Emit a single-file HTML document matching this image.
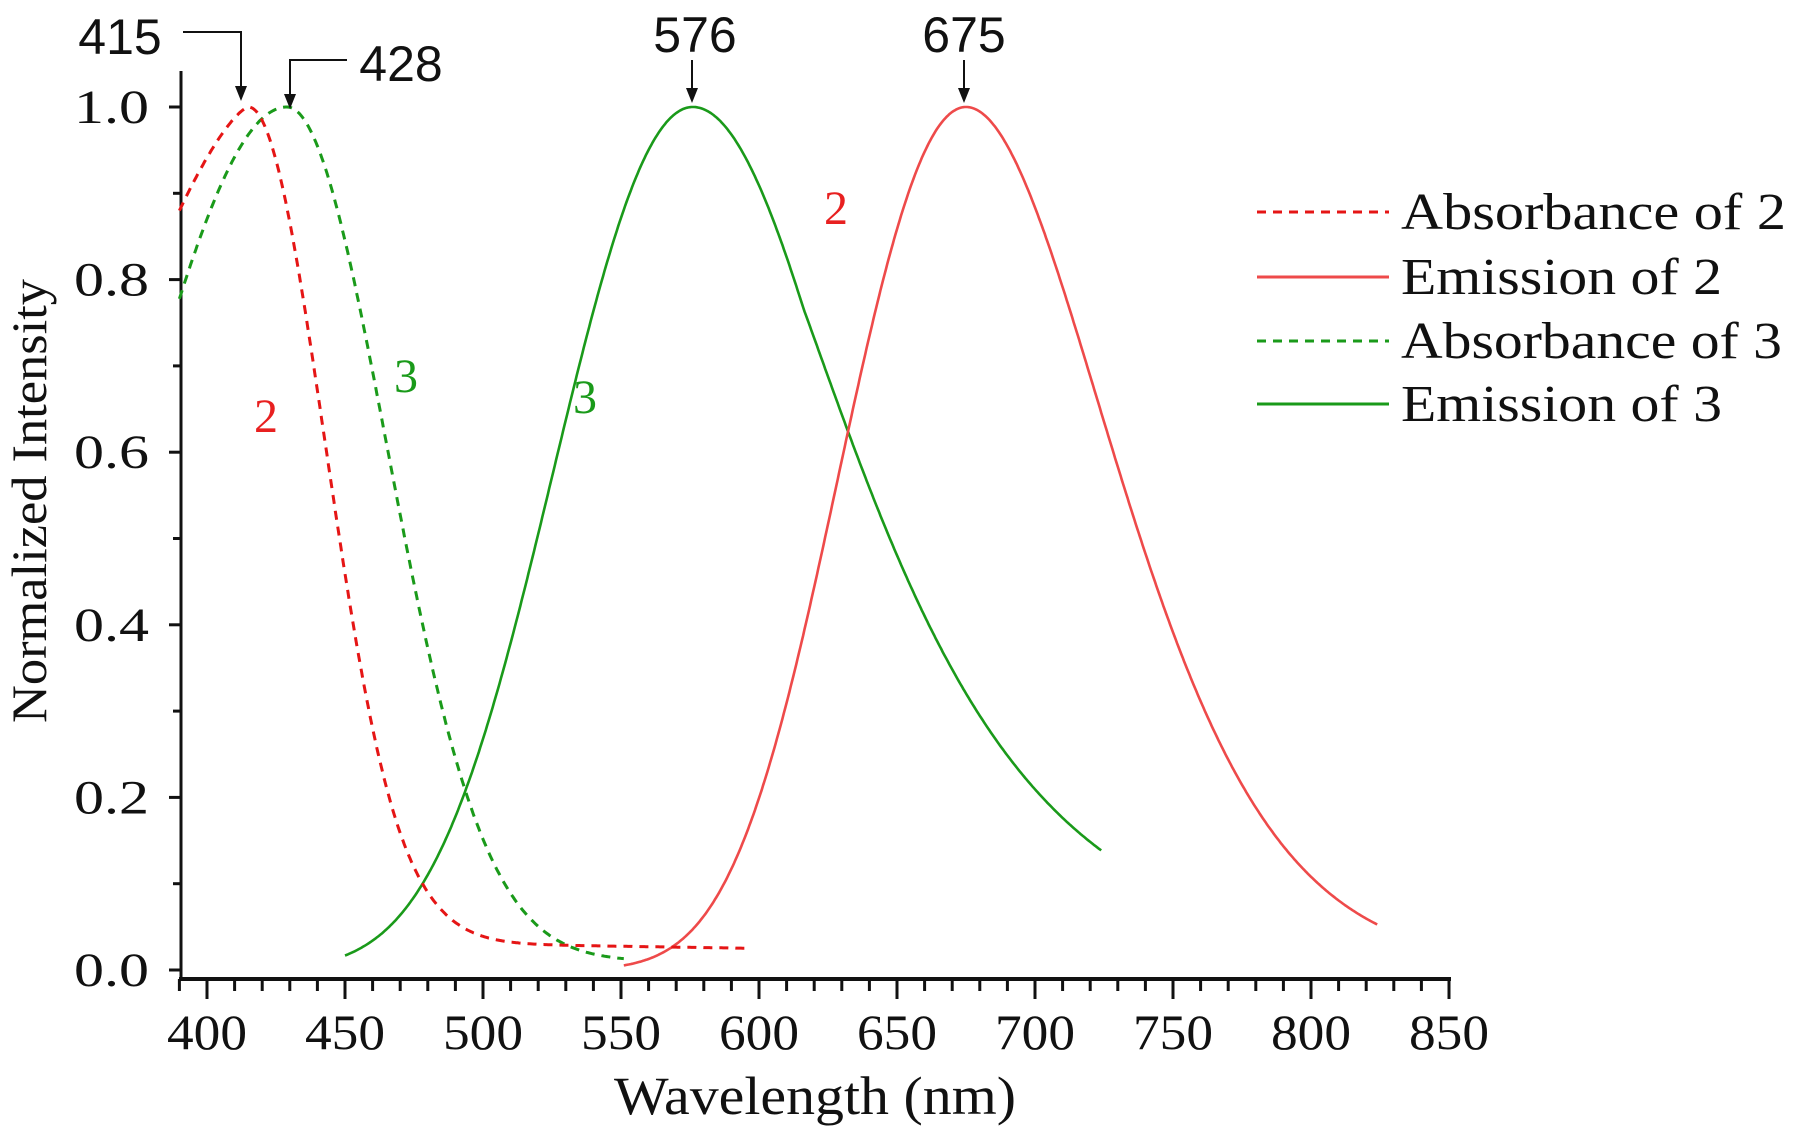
<!DOCTYPE html>
<html><head><meta charset="utf-8"><style>
html,body{margin:0;padding:0;background:#fff;}
svg{display:block;}
text{font-family:"Liberation Serif","Times New Roman",serif;fill:#111;}
.s{font-family:"Liberation Sans",sans-serif;}
</style></head><body>
<svg id="c" width="1800" height="1139" viewBox="0 0 1800 1139" xmlns="http://www.w3.org/2000/svg">
<g id="ax" stroke="#111" fill="none"></g>
<g id="curves" fill="none" stroke-width="2.6"></g>
<g id="txt"></g>
<g stroke="#111" stroke-width="2" fill="none">
<polyline points="183,32 241,32 241,88"/>
<polyline points="347,60 290,60 290,96"/>
<line x1="692" y1="60" x2="692" y2="90"/>
<line x1="964" y1="60" x2="964" y2="90"/>
</g>
<g fill="#111">
<polygon points="235,86 247,86 241,101"/>
<polygon points="284,94 296,94 290,109"/>
<polygon points="686,88 698,88 692,103"/>
<polygon points="958,88 970,88 964,103"/>
</g>
<text class="s" x="120" y="54" font-size="50" text-anchor="middle">415</text>
<text class="s" x="401" y="81" font-size="50" text-anchor="middle">428</text>
<text class="s" x="695" y="52" font-size="50" text-anchor="middle">576</text>
<text class="s" x="964" y="52" font-size="50" text-anchor="middle">675</text>
<text x="266" y="432" font-size="48" style="fill:#e82020" text-anchor="middle">2</text>
<text x="406" y="392" font-size="48" style="fill:#1a9a1a" text-anchor="middle">3</text>
<text x="585" y="413" font-size="48" style="fill:#1a9a1a" text-anchor="middle">3</text>
<text x="836" y="224" font-size="48" style="fill:#e82020" text-anchor="middle">2</text>
<g stroke-width="3">
<line x1="1257" y1="212" x2="1389" y2="212" stroke="#e51515" stroke-dasharray="9,7"/>
<line x1="1257" y1="277" x2="1389" y2="277" stroke="#ee4a4a"/>
<line x1="1257" y1="341" x2="1389" y2="341" stroke="#1a9a1a" stroke-dasharray="9,7"/>
<line x1="1257" y1="404" x2="1389" y2="404" stroke="#1a9a1a"/>
</g>
<text x="1401" y="229" font-size="52" textLength="385" lengthAdjust="spacingAndGlyphs">Absorbance of 2</text>
<text x="1401" y="294" font-size="52" textLength="321" lengthAdjust="spacingAndGlyphs">Emission of 2</text>
<text x="1401" y="358" font-size="52" textLength="381" lengthAdjust="spacingAndGlyphs">Absorbance of 3</text>
<text x="1401" y="421" font-size="52" textLength="321" lengthAdjust="spacingAndGlyphs">Emission of 3</text>
<text x="815" y="1114" font-size="54" text-anchor="middle" textLength="402" lengthAdjust="spacingAndGlyphs">Wavelength (nm)</text>
<text transform="translate(46,501) rotate(-90)" font-size="50" text-anchor="middle" textLength="444" lengthAdjust="spacingAndGlyphs">Normalized Intensity</text>
</svg>
<script>
const X=nm=>207+(nm-400)*1242/450, Y=v=>970-v*863;
const ns="http://www.w3.org/2000/svg";
const ax=document.getElementById('ax'), tx=document.getElementById('txt');
function el(p,t,a,s){const e=document.createElementNS(ns,t);for(const k in a)e.setAttribute(k,a[k]);if(s!==undefined)e.textContent=s;p.appendChild(e);return e;}
el(ax,'line',{x1:181,y1:71,x2:181,y2:981,'stroke-width':3});
el(ax,'line',{x1:179,y1:979,x2:1451,y2:979,'stroke-width':4});
for(let i=0;i<=10;i++){const y=Y(i/10);el(ax,'line',{x1:i%2?173:169,y1:y,x2:181,y2:y,'stroke-width':3});}
for(let v=0;v<=5;v++){el(tx,'text',{x:149,y:Y(v/5)+16,'font-size':48,'text-anchor':'end',textLength:75,lengthAdjust:'spacingAndGlyphs'},(v/5).toFixed(1));}
for(let nm=390;nm<=850;nm+=10){const x=X(nm);el(ax,'line',{x1:x,y1:979,x2:x,y2:nm%50?991:999,'stroke-width':3});}
for(let nm=400;nm<=850;nm+=50){el(tx,'text',{x:X(nm),y:1049,'font-size':50,'text-anchor':'middle',textLength:80,lengthAdjust:'spacingAndGlyphs'},nm);}
const g=(d,s)=>Math.exp(-d*d/(2*s*s));
function em3(n){const d=n-576;if(d<0)return g(d,51-0.055*(-d));return g(d,55+0.18*Math.max(0,d-40));}
function em2(n){const d=n-675;if(d<0)return g(d,47-0.07*(-d));return g(d,48+0.09*d);}
function ab2(n){const d=n-415;const b=0.03-0.00005*(n-500);const sb=1/(1+Math.exp(-(n-470)/8));
 if(d<0)return 1-0.12*Math.pow(-d/25,1.4);return (1-b*sb)*g(d,28)+b*sb;}
function ab3(n){const d=n-429;if(d<0)return g(d,55);return 0.99*g(d,36)+0.01;}
function path(f,a,b){let d='';for(let n=a;n<=b+1e-9;n+=0.5){d+=(d?' L':'M')+X(n).toFixed(1)+','+Y(f(n)).toFixed(1);}return d;}
const cv=document.getElementById('curves');
el(cv,'path',{d:path(em3,450,724),stroke:'#1a9a1a'});
el(cv,'path',{d:path(em2,551,824),stroke:'#ee4a4a'});
el(cv,'path',{d:path(ab3,390,551),stroke:'#1a9a1a','stroke-dasharray':'9,7','stroke-width':3});
el(cv,'path',{d:path(ab2,390,597),stroke:'#e51515','stroke-dasharray':'9,7','stroke-width':3});
</script>
</body></html>
